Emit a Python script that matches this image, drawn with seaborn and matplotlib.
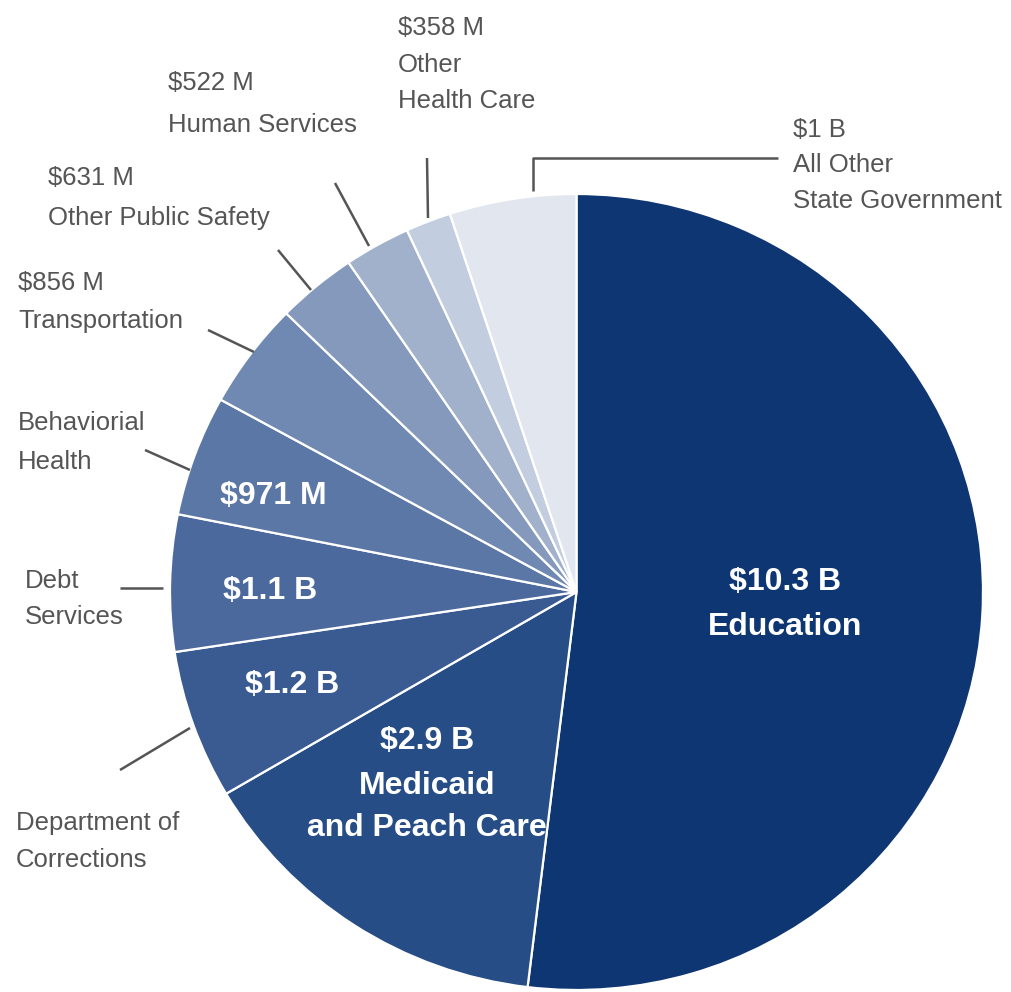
import matplotlib
matplotlib.use("Agg")
import matplotlib.pyplot as plt
import seaborn as sns

# ---------------- data ----------------
categories = ["Education", "Medicaid and Peach Care", "Department of Corrections",
              "Debt Services", "Behaviorial Health", "Transportation",
              "Other Public Safety", "Human Services", "Other Health Care",
              "All Other State Government"]
values_billions = [10.3, 2.9, 1.2, 1.1, 0.971, 0.856, 0.631, 0.522, 0.358, 1.0]
value_labels = ["$10.3 B", "$2.9 B", "$1.2 B", "$1.1 B", "$971 M", "$856 M",
                "$631 M", "$522 M", "$358 M", "$1 B"]
slice_colors = ["#0e3673", "#264d86", "#3a5b91", "#4b699c", "#5b77a5", "#7089b2",
                "#8599bd", "#a2b1cb", "#c3cde0", "#e1e6ef"]

# ---------------- style ----------------
sns.set_theme(style="white")
out_family = ["Liberation Sans", "DejaVu Sans"]
out_size = 18.5
in_family = ["Liberation Sans", "DejaVu Sans"]
in_size = 23.0
plt.rcParams["font.family"] = out_family

W, H = 1012, 992
fig = plt.figure(figsize=(W / 100, H / 100), dpi=100)

# pie axes: pie centre at pixel (576.5, 592), radii 406.5 (x) / 398 (y)
pcx, pcy, rx, ry = 576.5, 592.0, 406.5, 398.0
axp = fig.add_axes([0, 0, 1, 1])
axp.pie(values_billions, colors=slice_colors, startangle=90, counterclock=False,
        radius=1, wedgeprops=dict(edgecolor="white", linewidth=1.6))
axp.set_aspect("auto")
axp.set_xlim((0 - pcx) / rx, (W - pcx) / rx)
axp.set_ylim((pcy - H) / ry, pcy / ry)
axp.axis("off")

# overlay axes in pixel coordinates for annotations
ax = fig.add_axes([0, 0, 1, 1])
ax.set_xlim(0, W)
ax.set_ylim(0, H)
ax.axis("off")


def P(x, y):
    return x, H - y


TXT = "#555555"
LINE = "#555555"

# outside labels: (left x, [line centre ys], lines)
outside = [
    (793, [127, 162, 198], [value_labels[9], "All Other", "State Government"]),
    (398, [25, 62, 98], [value_labels[8], "Other", "Health Care"]),
    (168, [80, 122], [value_labels[7], "Human Services"]),
    (48, [175, 215], [value_labels[6], "Other Public Safety"]),
    (18, [280, 318], [value_labels[5], "Transportation"]),
    (18, [420, 459], ["Behaviorial", "Health"]),
    (25, [578, 614], ["Debt", "Services"]),
    (16, [820, 857], ["Department of", "Corrections"]),
]
for x, ys, lines in outside:
    for y, s in zip(ys, lines):
        ax.text(*P(x, y + 10), s, ha="left", va="baseline", color=TXT,
                fontsize=out_size, family=out_family)

leaders = [
    [(533, 191), (533, 158), (778, 158)],
    [(427, 158), (428, 218)],
    [(335, 183), (369, 246)],
    [(278, 250), (311, 290)],
    [(208, 330), (254, 352)],
    [(145, 450), (190, 470)],
    [(120, 588), (163, 588)],
    [(120, 770), (190, 728)],
]
for pts in leaders:
    xs = [P(*p)[0] for p in pts]
    ys = [P(*p)[1] for p in pts]
    ax.plot(xs, ys, color=LINE, lw=1.8, solid_capstyle="butt")

# inside labels: (centre x, [line centre ys], lines)
inside = [
    (785, [578, 623], [value_labels[0], "Education"]),
    (427, [737, 782, 824], [value_labels[1], "Medicaid", "and Peach Care"]),
    (292, [681], [value_labels[2]]),
    (270, [587], [value_labels[3]]),
    (273, [492], [value_labels[4]]),
]
for x, ys, lines in inside:
    for y, s in zip(ys, lines):
        ax.text(*P(x, y + 12), s, ha="center", va="baseline", color="white",
                fontsize=in_size, fontweight="bold", family=in_family)

fig.savefig("out.png", dpi=100, facecolor="white")
